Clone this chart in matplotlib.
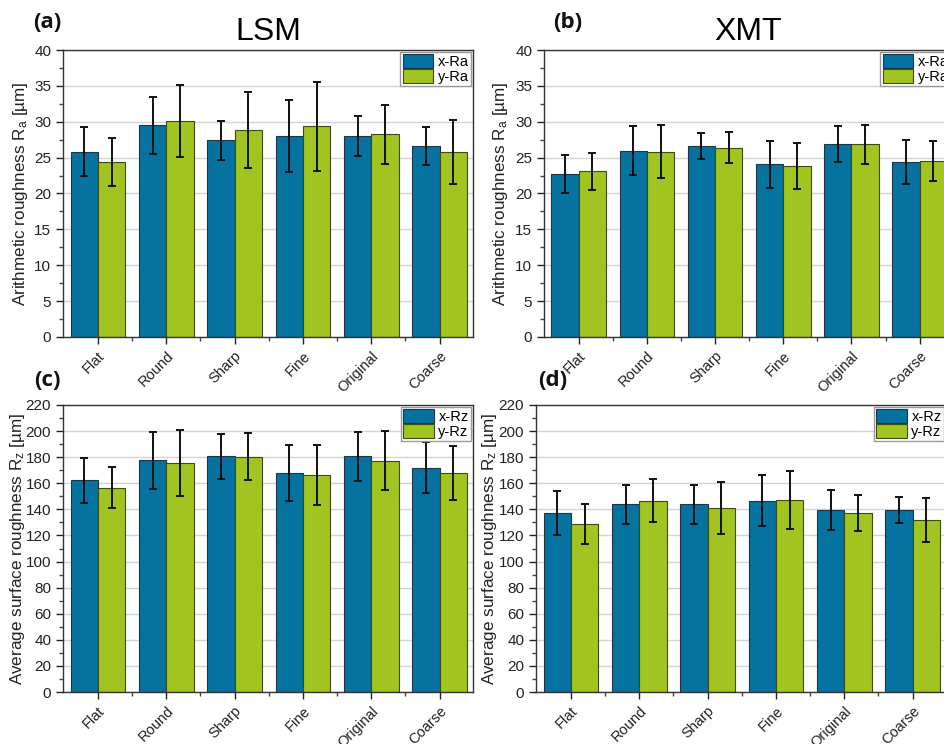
import matplotlib
matplotlib.use("Agg")
import matplotlib.pyplot as plt
import matplotlib.transforms as mtransforms
import numpy as np
from matplotlib.patches import Patch

plt.rcParams['font.family'] = ['Liberation Sans', 'DejaVu Sans']
plt.rcParams['mathtext.default'] = 'regular'

categories = ["Flat", "Round", "Sharp", "Fine", "Original", "Coarse"]

# LSM Ra
lsm_x_ra = [25.8, 29.5, 27.4, 28.0, 28.05, 26.65]
lsm_x_ra_err = [3.4, 4.0, 2.75, 5.07, 2.8, 2.67]
lsm_y_ra = [24.4, 30.15, 28.85, 29.35, 28.25, 25.8]
lsm_y_ra_err = [3.3, 5.0, 5.3, 6.2, 4.1, 4.5]

# XMT Ra
xmt_x_ra = [22.7, 25.95, 26.6, 24.05, 26.85, 24.4]
xmt_x_ra_err = [2.65, 3.4, 1.85, 3.25, 2.5, 3.05]
xmt_y_ra = [23.1, 25.85, 26.4, 23.85, 26.85, 24.5]
xmt_y_ra_err = [2.6, 3.65, 2.2, 3.25, 2.7, 2.8]

# LSM Rz
lsm_x_rz = [162.2, 177.5, 180.8, 167.8, 180.8, 171.9]
lsm_x_rz_err = [17.4, 22.0, 17.2, 21.5, 18.8, 19.7]
lsm_y_rz = [156.6, 175.2, 180.4, 166.5, 177.3, 167.8]
lsm_y_rz_err = [15.6, 25.3, 18.2, 23.0, 22.6, 20.5]

# XMT Rz
xmt_x_rz = [137.5, 144.0, 143.8, 146.6, 139.5, 139.5]
xmt_x_rz_err = [16.9, 15.0, 15.1, 19.6, 15.7, 9.6]
xmt_y_rz = [128.7, 146.6, 141.2, 147.1, 137.2, 131.8]
xmt_y_rz_err = [15.6, 16.4, 20.0, 22.2, 13.8, 16.9]

BLUE = "#05729f"
GREEN = "#a2c421"
W, H = 944, 744

fig = plt.figure(figsize=(W / 100, H / 100), dpi=100)


def make_ax(left, top, right, bottom):
    return fig.add_axes([left / W, 1 - bottom / H, (right - left) / W, (bottom - top) / H])


def draw(ax, xv, xe, yv, ye, ymax, ystep, ylabel, labels, title=None, labx=-0.08):
    x = np.arange(len(categories))
    bw = 0.4
    ax.set_axisbelow(True)
    ax.grid(axis='y', color='#d3d3d3', linewidth=1.0)
    ax.bar(x - bw / 2, xv, bw, color=BLUE, edgecolor='#1f3340', linewidth=0.8, zorder=2)
    ax.bar(x + bw / 2, yv, bw, color=GREEN, edgecolor='#3d4a10', linewidth=0.8, zorder=2)
    ax.errorbar(x - bw / 2, xv, yerr=xe, fmt='none', ecolor='#111111', elinewidth=1.4,
                capsize=2.7, capthick=1.4, zorder=3)
    ax.errorbar(x + bw / 2, yv, yerr=ye, fmt='none', ecolor='#111111', elinewidth=1.4,
                capsize=2.7, capthick=1.4, zorder=3)
    ax.set_xlim(-0.51, 5.49)
    ax.set_ylim(0, ymax)
    ax.set_yticks(np.arange(0, ymax + 0.001, ystep))
    ax.set_yticks(np.arange(ystep / 2, ymax, ystep), minor=True)
    ax.set_xticks(x)
    ax.set_xticks(x[:-1] + 0.5, minor=True)
    ax.set_xticklabels(categories, rotation=45, ha='right', va='top', rotation_mode='anchor',
                       fontsize=10.5)
    off = mtransforms.ScaledTranslation(6 / 100, 0, fig.dpi_scale_trans)
    for lab in ax.get_xticklabels():
        lab.set_transform(lab.get_transform() + off)
    ax.tick_params(axis='both', which='major', direction='out', length=5, width=1,
                   colors='#222222')
    ax.tick_params(axis='y', which='major', labelsize=11)
    ax.tick_params(axis='both', which='minor', direction='out', length=3, width=1, colors='#444444')
    for s in ax.spines.values():
        s.set_color('#333333')
        s.set_linewidth(1.0)
    ax.set_ylabel(ylabel, fontsize=12.3, color='#222222')
    ax.yaxis.set_label_coords(labx, 0.5)
    handles = [Patch(facecolor=BLUE, edgecolor='#1f3340', linewidth=0.8, label=labels[0]),
               Patch(facecolor=GREEN, edgecolor='#3d4a10', linewidth=0.8, label=labels[1])]
    ax.legend(handles=handles, loc='upper right', fontsize=10.5, fancybox=False,
              edgecolor='#999999', framealpha=1, labelspacing=0.0, handlelength=2.1,
              handleheight=1.05, handletextpad=0.3, borderpad=0.15, borderaxespad=0.15,
              )
    if title:
        ax.set_title(title, fontsize=23, pad=7)


axa = make_ax(63, 50, 473, 337)
axb = make_ax(544, 50, 953, 337)
axc = make_ax(63, 405, 473, 692)
axd = make_ax(536, 405, 946, 692)

ra_label = "Arithmetic roughness R$_a$ [µm]"
rz_label = "Average surface roughness R$_z$ [µm]"

draw(axa, lsm_x_ra, lsm_x_ra_err, lsm_y_ra, lsm_y_ra_err, 40, 5, ra_label, ["x-Ra", "y-Ra"], "LSM", -0.080)
draw(axb, xmt_x_ra, xmt_x_ra_err, xmt_y_ra, xmt_y_ra_err, 40, 5, ra_label, ["x-Ra", "y-Ra"], "XMT", -0.083)
draw(axc, lsm_x_rz, lsm_x_rz_err, lsm_y_rz, lsm_y_rz_err, 220, 20, rz_label, ["x-Rz", "y-Rz"], None, -0.0885)
draw(axd, xmt_x_rz, xmt_x_rz_err, xmt_y_rz, xmt_y_rz_err, 220, 20, rz_label, ["x-Rz", "y-Rz"], None, -0.091)

for txt, (px, py) in zip(["a", "b", "c", "d"], [(47, 22), (568, 22), (47, 381), (553, 381)]):
    fig.text(px / W, 1 - py / H, "(" + txt + ")", fontsize=16, fontweight='bold',
             color='#111111', ha='center', va='center', family=['Open Sans', 'DejaVu Sans'])

fig.savefig("out.png", dpi=100)
